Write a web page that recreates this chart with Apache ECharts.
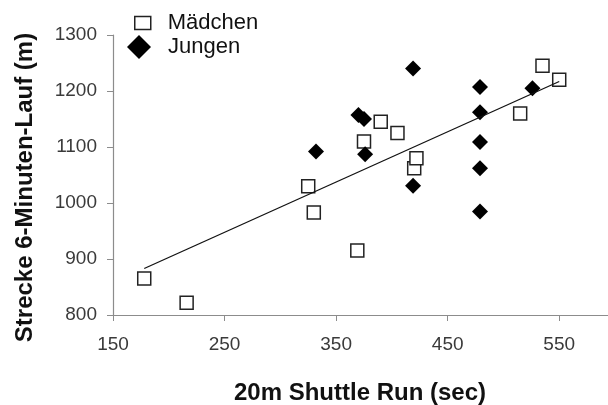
<!DOCTYPE html>
<html><head><meta charset="utf-8">
<script src="https://cdn.jsdelivr.net/npm/echarts@6/dist/echarts.min.js"></script>
<style>html,body{margin:0;padding:0;background:#fff}#c{width:608px;height:405px}</style>
</head><body><div id="c"></div>
<script>
const maedchenX = [178, 216, 325, 330, 369, 375, 390, 405, 420, 422, 515, 535, 550];
const maedchenY = [865, 822, 1030, 983, 915, 1110, 1145, 1125, 1062, 1080, 1160, 1245, 1220];
const jungenX = [419, 479, 526, 479, 370, 375, 479, 332, 376, 479, 419, 479];
const jungenY = [1240, 1207, 1205, 1162, 1157, 1150, 1109, 1092, 1087, 1062, 1031, 985];
const trendX = [178, 550];
const trendY = [883, 1217];
const xTicks = [150, 250, 350, 450, 550];
const seriesNames = ['Mädchen', 'Jungen'];
const xTitle = '20m Shuttle Run (sec)';
const yTitle = 'Strecke 6-Minuten-Lauf (m)';

const zip = (a, b) => a.map((v, i) => [v, b[i]]);
const font = 'Liberation Sans, Arial, sans-serif';
const chart = echarts.init(document.getElementById('c'), null, {renderer: 'canvas'});
chart.setOption({
  animation: false,
  backgroundColor: '#fff',
  grid: {left: 113, right: -7, top: 35, bottom: 90, containLabel: false, outerBoundsMode: 'none'},
  legend: [
    {data: [{name: seriesNames[0], icon: 'rect', itemStyle: {color: '#fff', borderColor: '#222', borderWidth: 1.5}}],
     left: 134, top: 11, padding: 0, itemWidth: 16, itemHeight: 13,
     textStyle: {fontFamily: font, fontSize: 22, color: '#111', padding: [0, 0, 0, 12], lineHeight: 24}},
    {data: [{name: seriesNames[1], icon: 'diamond', itemStyle: {color: '#000'}}],
     left: 127, top: 35, padding: 0, itemWidth: 24, itemHeight: 24,
     textStyle: {fontFamily: font, fontSize: 22, color: '#111', padding: [0, 0, 0, 12], lineHeight: 24}}
  ],
  xAxis: {
    type: 'value', min: 150, max: 600,
    name: xTitle, nameLocation: 'middle', nameGap: 66,
    nameTextStyle: {fontFamily: font, fontSize: 24, fontWeight: 'bold', color: '#111', padding: [0, 8, 0, 0]},
    axisLine: {show: true, lineStyle: {color: '#8c8c8c', width: 1.2}},
    axisTick: {show: true, length: 6, customValues: xTicks, lineStyle: {color: '#8c8c8c'}},
    axisLabel: {customValues: xTicks, margin: 20, fontFamily: font, fontSize: 19, color: '#3a3a3a'},
    splitLine: {show: false}
  },
  yAxis: {
    type: 'value', min: 800, max: 1300, interval: 100,
    name: yTitle, nameLocation: 'middle', nameGap: 76,
    nameTextStyle: {fontFamily: font, fontSize: 24, fontWeight: 'bold', color: '#111', padding: [0, 25, 0, 0]},
    axisLine: {show: true, lineStyle: {color: '#8c8c8c', width: 1.2}},
    axisTick: {show: true, length: 6, lineStyle: {color: '#8c8c8c'}},
    axisLabel: {margin: 16, fontFamily: font, fontSize: 19, color: '#3a3a3a', formatter: v => String(v)},
    splitLine: {show: false}
  },
  series: [
    {name: seriesNames[0], type: 'scatter', symbol: 'rect', symbolSize: 13, z: 2,
     itemStyle: {color: '#fff', borderColor: '#222', borderWidth: 1.5, opacity: 1},
     data: zip(maedchenX, maedchenY)},
    {name: seriesNames[1], type: 'scatter', symbol: 'diamond', symbolSize: 16, z: 3,
     itemStyle: {color: '#000', opacity: 1},
     data: zip(jungenX, jungenY)},
    {name: 'Trend', type: 'line', showSymbol: false, symbol: 'none', z: 4,
     lineStyle: {color: '#111', width: 1.3}, data: zip(trendX, trendY)}
  ]
});
</script></body></html>
